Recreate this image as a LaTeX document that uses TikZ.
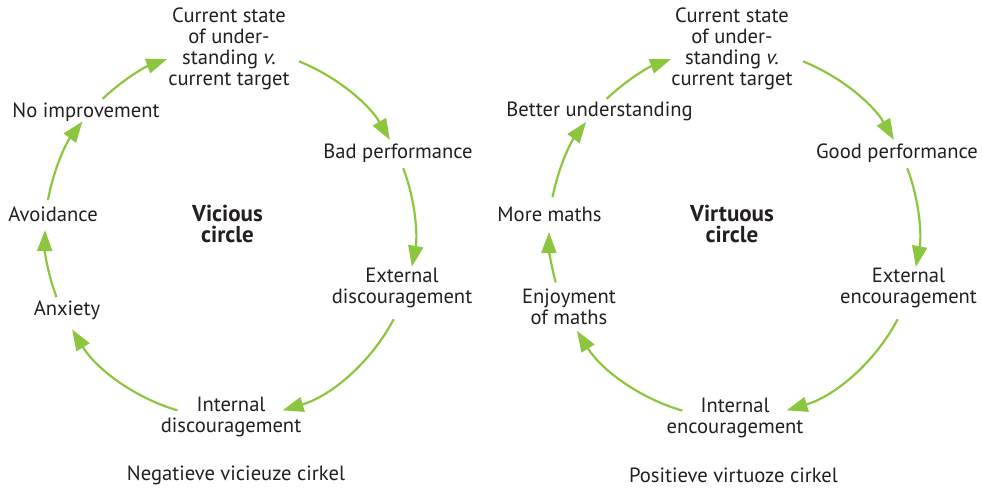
\documentclass[tikz,border=0pt]{standalone}
\usepackage{fontspec}
\setmainfont{PT Sans}
\usetikzlibrary{arrows.meta,calc}
\definecolor{cgreen}{HTML}{8CC63F}
\definecolor{ctext}{HTML}{231F20}
\begin{document}
\begin{tikzpicture}[x=1pt,y=1pt,
  lbl/.style={text=ctext, font=\fontsize{20.6}{21}\selectfont, align=center, inner sep=0pt},
  ttl/.style={lbl, font=\fontsize{23}{21}\selectfont\bfseries},
  arr/.style={draw=cgreen, line width=2.2pt, -{Triangle[length=21pt,width=15pt]}}]
\useasboundingbox (0,0) rectangle (982,488);
% ---------- left: vicious circle ----------
\coordinate (cL) at (230,255);
\node[lbl] (Ltop) at (229,439) {Current state\\of under-\\standing \textit{v.}\\current target};
\node[lbl] (Lnoimp) at (86,376) {No improvement};
\node[lbl] (Lbad) at (398,335) {Bad performance};
\node[lbl] (Lavoid) at (53,274) {Avoidance};
\node[ttl] (Ltitle) at (227.5,264.5) {Vicious\\circle};
\node[lbl] (Lext) at (402,200) {External\\discouragement};
\node[lbl] (Lanx) at (67,178) {Anxiety};
\node[lbl] (Lint) at (231,71.5) {Internal\\discouragement};
\node[lbl] (Lcap) at (236,13) {Negatieve vicieuze cirkel};
\foreach \n/\a in {1/68.1,2/20.5,3/-27.8,4/-106.5,5/-159.7,6/169.7,7/133.5}
  \coordinate (Ls\n) at ($(cL)+(\a:185pt)$);
\draw[arr] (Ls1) arc[start angle=68.1, end angle=30.2, radius=185pt];
\draw[arr] (Ls2) arc[start angle=20.5, end angle=-10.5, radius=185pt];
\draw[arr] (Ls3) arc[start angle=-27.8, end angle=-73.5, radius=185pt];
\draw[arr] (Ls4) arc[start angle=-106.5, end angle=-148.6, radius=185pt];
\draw[arr] (Ls5) arc[start angle=-159.7, end angle=-180.9, radius=185pt];
\draw[arr] (Ls6) arc[start angle=169.7, end angle=142.9, radius=185pt];
\draw[arr] (Ls7) arc[start angle=133.5, end angle=109.8, radius=185pt];
% ---------- right: virtuous circle ----------
\coordinate (cR) at (734,255);
\node[lbl] (Rtop) at (732,439) {Current state\\of under-\\standing \textit{v.}\\current target};
\node[lbl] (Rbetter) at (599.5,377) {Better understanding};
\node[lbl] (Rgood) at (897,335) {Good performance};
\node[lbl] (Rmore) at (549.5,274) {More maths};
\node[ttl] (Rtitle) at (732,264.5) {Virtuous\\circle};
\node[lbl] (Rext) at (908.5,200) {External\\encouragement};
\node[lbl] (Renj) at (569,181.5) {Enjoyment\\of maths};
\node[lbl] (Rint) at (735,70.5) {Internal\\encouragement};
\node[lbl] (Rcap) at (733.5,13) {Positieve virtuoze cirkel};
\foreach \n/\a in {1/68.1,2/20.5,3/-27.8,4/-106.2,5/-164.5,6/168.8,7/133.5}
  \coordinate (Rs\n) at ($(cR)+(\a:185pt)$);
\draw[arr] (Rs1) arc[start angle=68.1, end angle=30.2, radius=185pt];
\draw[arr] (Rs2) arc[start angle=20.5, end angle=-10.6, radius=185pt];
\draw[arr] (Rs3) arc[start angle=-27.8, end angle=-73.5, radius=185pt];
\draw[arr] (Rs4) arc[start angle=-106.2, end angle=-148.1, radius=185pt];
\draw[arr] (Rs5) arc[start angle=-164.5, end angle=-180.3, radius=185pt];
\draw[arr] (Rs6) arc[start angle=168.8, end angle=143.1, radius=185pt];
\draw[arr] (Rs7) arc[start angle=133.5, end angle=109.9, radius=185pt];
\end{tikzpicture}
\end{document}
